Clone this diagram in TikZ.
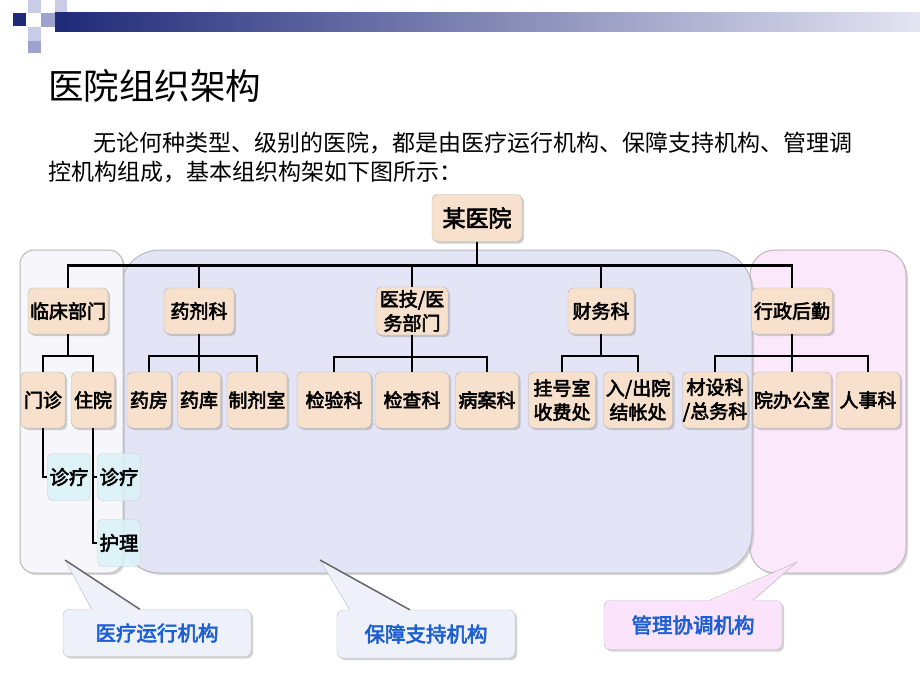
\documentclass[tikz,border=0pt]{standalone}
\usepackage{fontspec}
\setmainfont{Noto Sans CJK SC}[AutoFakeBold=3]
\usetikzlibrary{shadows}

\definecolor{navy}{HTML}{1F2A78}
\definecolor{barend}{HTML}{E4E4F2}
\definecolor{lavA}{HTML}{C9CCE6}
\definecolor{lavB}{HTML}{9EA3CE}
\definecolor{peach}{HTML}{F7E1CC}
\definecolor{icecyan}{HTML}{DAF3F8}
\definecolor{areaL}{HTML}{F6F6FB}
\definecolor{areaM}{HTML}{E3E5F7}
\definecolor{areaR}{HTML}{FBE8FB}
\definecolor{coblue}{HTML}{1E5FD2}
\definecolor{cofill}{HTML}{EEF0FA}
\definecolor{cofillR}{HTML}{FBE4FB}

\tikzset{
  area/.style={draw=gray!55, line width=1pt,
    drop shadow={shadow xshift=2pt, shadow yshift=-2pt, fill=gray!60}},
  dept/.style={draw=gray!60, fill=peach, rounded corners=5pt, inner sep=0pt,
    align=center, font=\bfseries\fontsize{19}{24}\selectfont,
    drop shadow={shadow xshift=2pt, shadow yshift=-2pt, fill=gray!75}},
  sub/.style={draw=gray!40, fill=icecyan, fill opacity=0.85, text opacity=1,
    rounded corners=5pt, inner sep=0pt, minimum width=43, minimum height=47,
    font=\bfseries\fontsize{19.5}{24}\selectfont},
  link/.style={line width=2.5pt},
  callout/.style={draw=gray!50, rounded corners=6pt, text=coblue,
    font=\bfseries\fontsize{20.5}{24}\selectfont,
    drop shadow={shadow xshift=2pt, shadow yshift=-2pt, fill=gray!70}}
}

\begin{document}
\begin{tikzpicture}[x=1pt, y=-1pt]
\useasboundingbox[fill=white] (0,0) rectangle (920,690);

% banner
\fill[navy] (13,13) rectangle (26,26);
\fill[lavA] (28,0) rectangle (41,13);
\fill[lavB] (41,13) rectangle (55,27);
\fill[lavA] (28,27) rectangle (41,41);
\fill[lavB] (28,41) rectangle (41,53);
\fill[lavA] (55,0) rectangle (67,13);
\shade[left color=navy, right color=barend] (55,13) rectangle (920,32);

% title and text
\node[anchor=west, inner sep=0pt, font=\fontsize{35.5}{40}\selectfont] (title) at (48,86) {医院组织架构};
\node[anchor=west, inner sep=0pt, font=\fontsize{23}{26}\selectfont] (line1) at (93,143)
  {无论何种类型、级别的医院，都是由医疗运行机构、保障支持机构、管理调};
\node[anchor=west, inner sep=0pt, font=\fontsize{23}{26}\selectfont] (line2) at (48,172)
  {控机构组成，基本组织构架如下图所示：};

% areas
\fill[areaR, area, rounded corners=25pt] (750,250) rectangle (906,573);
\fill[areaM, area, rounded corners=40pt] (120,250) rectangle (752,573);
\fill[areaL, area, rounded corners=14pt] (20,250) rectangle (123,573);

% nodes
\node[dept, minimum width=90, minimum height=47, font=\bfseries\fontsize{23}{26}\selectfont] (root) at (477,218) {某医院};

\node[dept, minimum width=80, minimum height=46] (lcbm) at (68,311) {临床部门};
\node[dept, minimum width=70, minimum height=46] (yjk) at (199,311) {药剂科};
\node[dept, minimum width=72, minimum height=48] (yjbm) at (412,311) {医技/医\\务部门};
\node[dept, minimum width=66, minimum height=46] (cwk) at (601,311) {财务科};
\node[dept, minimum width=81, minimum height=46] (xzhq) at (792,311) {行政后勤};

\node[dept, minimum width=44, minimum height=56] (mz) at (43,400) {门诊};
\node[dept, minimum width=43, minimum height=56] (zy) at (93,400) {住院};
\node[dept, minimum width=44, minimum height=56] (yf) at (149,400) {药房};
\node[dept, minimum width=43, minimum height=56] (yk) at (199,400) {药库};
\node[dept, minimum width=60, minimum height=56] (zjs) at (257,400) {制剂室};
\node[dept, minimum width=74, minimum height=56] (jyk) at (334,400) {检验科};
\node[dept, minimum width=74, minimum height=56] (jck) at (412,400) {检查科};
\node[dept, minimum width=63, minimum height=56] (bak) at (487,400) {病案科};
\node[dept, minimum width=67, minimum height=56] (ghs) at (562,400) {挂号室\\收费处};
\node[dept, minimum width=69, minimum height=56] (rcy) at (638,400) {入/出院\\结帐处};
\node[dept, minimum width=65, minimum height=56] (csk) at (715,400) {材设科\\/总务科};
\node[dept, minimum width=78, minimum height=56] (ybgs) at (792,400) {院办公室};
\node[dept, minimum width=64, minimum height=56] (rsk) at (868,400) {人事科};

\node[sub] (zl1) at (69,477) {诊疗};
\node[sub] (zl2) at (119,477) {诊疗};
\node[sub] (hl) at (119,543) {护理};

% connectors
\foreach \c in {lcbm,yjk,yjbm,cwk,xzhq}
  \draw[link] (root.south) -- ++(0,24) -| (\c.north);
\foreach \p/\c in {lcbm/mz,lcbm/zy,yjk/yf,yjk/yk,yjk/zjs,yjbm/jyk,yjbm/jck,yjbm/bak,
                   cwk/ghs,cwk/rcy,xzhq/csk,xzhq/ybgs,xzhq/rsk}
  \draw[link] (\p.south) -- ++(0,22) -| (\c.north);
\draw[link] (mz.south) |- (zl1.west);
\draw[link] (zy.south) |- (zl2.west);
\draw[link] (zy.south) |- (hl.west);

% callouts
\node[callout, fill=cofill, minimum width=188, minimum height=47] (co1) at (157,633) {医疗运行机构};
\node[callout, fill=cofill, minimum width=178, minimum height=48] (co2) at (426,634) {保障支持机构};
\node[callout, fill=cofillR, minimum width=178, minimum height=49] (co3) at (693,625) {管理协调机构};
\coordinate (tip1) at (65,560);
\coordinate (tip2) at (320,560);
\coordinate (tip3) at (797,562);

\fill[cofill] (tip1) -- ([xshift=29pt,yshift=-1.5pt]co1.north west) -- ([xshift=77pt,yshift=-1.5pt]co1.north west) -- cycle;
\draw[gray!50] ([xshift=29pt]co1.north west) -- (tip1);
\draw[gray!80!black, line width=1.5pt] (tip1) -- ([xshift=77pt]co1.north west);

\fill[cofill] (tip2) -- ([xshift=13pt,yshift=-1.5pt]co2.north west) -- ([xshift=73pt,yshift=-1.5pt]co2.north west) -- cycle;
\draw[gray!50] ([xshift=13pt]co2.north west) -- (tip2);
\draw[gray!80!black, line width=1.5pt] (tip2) -- ([xshift=73pt]co2.north west);

\fill[cofillR] (tip3) -- ([xshift=106pt,yshift=-1.5pt]co3.north west) -- ([xshift=149pt,yshift=-1.5pt]co3.north west) -- cycle;
\draw[gray!60] ([xshift=106pt]co3.north west) -- (tip3);
\draw[gray!60] (tip3) -- ([xshift=149pt]co3.north west);
\end{tikzpicture}
\end{document}
